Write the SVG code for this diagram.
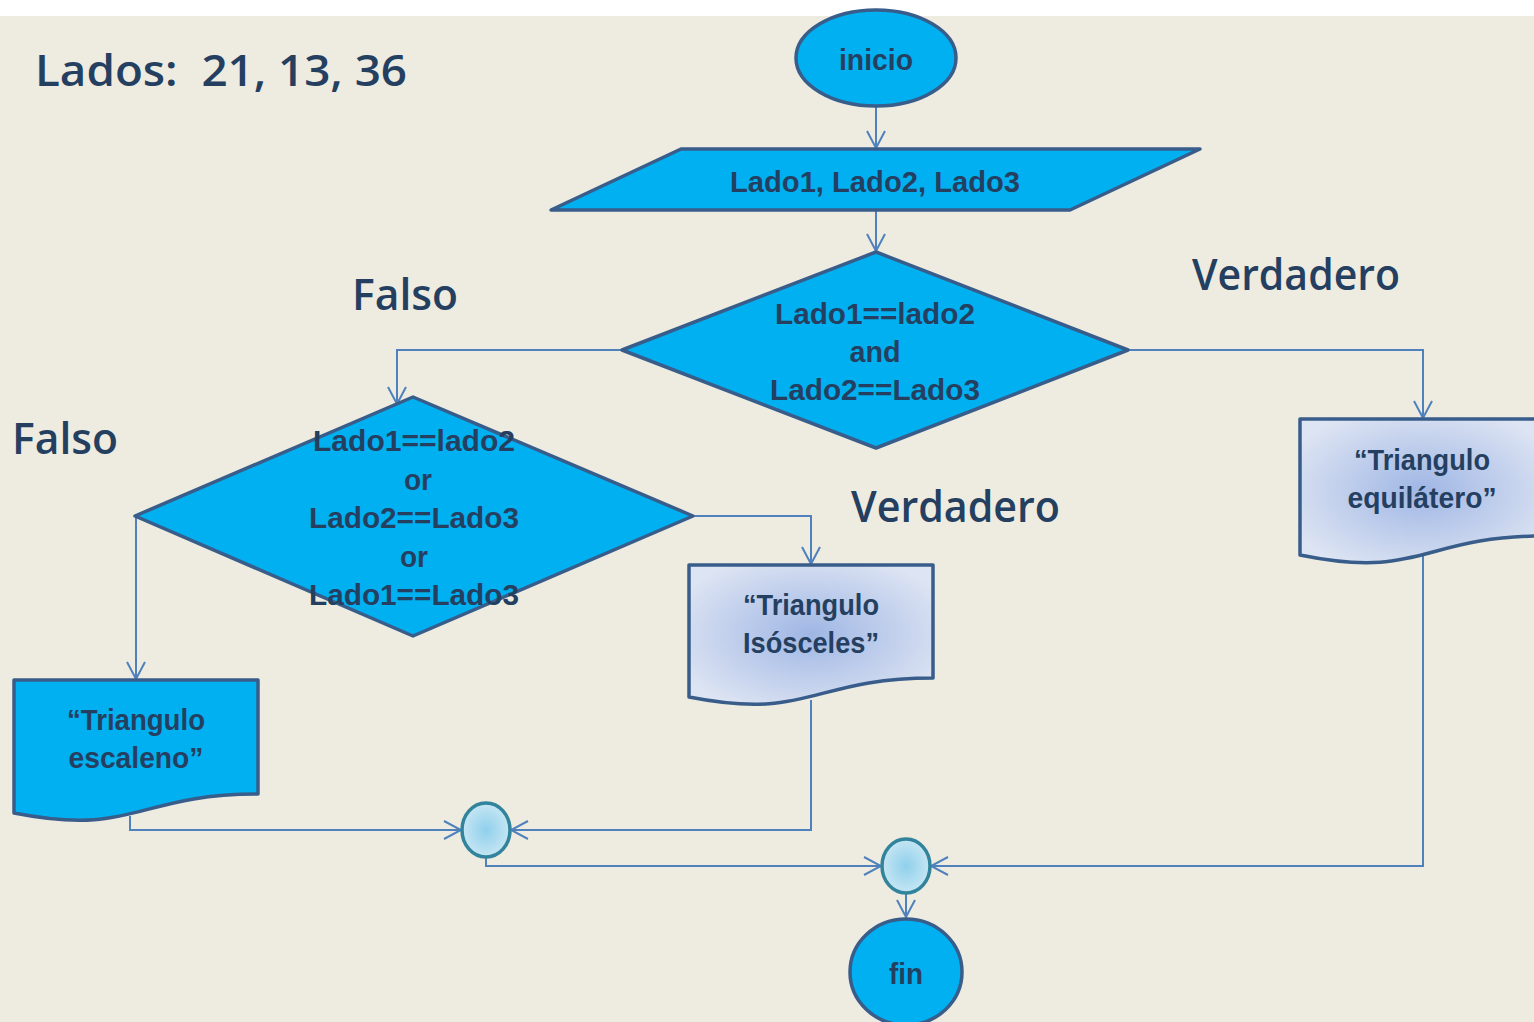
<svg xmlns="http://www.w3.org/2000/svg" width="1534" height="1022" viewBox="0 0 1534 1022">
  <defs>
    <style>
      .shape { fill: #00B0F0; stroke: #385D8A; stroke-width: 3.5; stroke-linejoin: round; }
      .doc { fill: url(#docFill); stroke: #385D8A; stroke-width: 3.5; stroke-linejoin: round; }
      .join { fill: url(#joinFill); stroke: #31849B; stroke-width: 3.5; }
      .wire { fill: none; stroke: #4F81BD; stroke-width: 2; }
      .t { font-family: "Liberation Sans", Arial, sans-serif; fill: #243F60; text-anchor: middle; }
      .b { font-weight: bold; font-size: 29px; }
      .m { font-size: 29px; font-weight: bold; }
      .lbl { font-family: "Open Sans", "Liberation Sans", Arial, sans-serif; font-weight: 600; fill: #243F60; font-size: 44px; }
    </style>
    <radialGradient id="docFill" cx="50%" cy="50%" r="60%">
      <stop offset="0" stop-color="#9FB6E4"/>
      <stop offset="1" stop-color="#DDE4F3"/>
    </radialGradient>
    <radialGradient id="joinFill" cx="50%" cy="50%" r="55%">
      <stop offset="0" stop-color="#8FD0EC"/>
      <stop offset="1" stop-color="#CBE8F4"/>
    </radialGradient>
    <marker id="arrow" viewBox="0 0 20 22" refX="18" refY="11" markerWidth="20" markerHeight="22" markerUnits="userSpaceOnUse" orient="auto">
      <path d="M1,2 L18,11 L1,20" fill="none" stroke="#4F81BD" stroke-width="2"/>
    </marker>
  </defs>

  <!-- page -->
  <rect x="0" y="0" width="1534" height="1022" fill="#FFFFFF"/>
  <rect x="0" y="16" width="1534" height="1006" fill="#EEEBE0"/>

  <!-- free labels -->
  <text class="lbl" x="35" y="86" xml:space="preserve" textLength="372" lengthAdjust="spacingAndGlyphs" font-size="46">Lados:  21, 13, 36</text>
  <text class="lbl" x="352" y="310" textLength="106" lengthAdjust="spacingAndGlyphs">Falso</text>
  <text class="lbl" x="1192" y="290" textLength="208" lengthAdjust="spacingAndGlyphs">Verdadero</text>
  <text class="lbl" x="12" y="454" textLength="106" lengthAdjust="spacingAndGlyphs">Falso</text>
  <text class="lbl" x="851" y="522" textLength="209" lengthAdjust="spacingAndGlyphs">Verdadero</text>

  <!-- connectors -->
  <g id="connectors">
    <path class="wire" d="M876,106 V148" marker-end="url(#arrow)"/>
    <path class="wire" d="M876,210 V251" marker-end="url(#arrow)"/>
    <path class="wire" d="M622,350 H397 V404" marker-end="url(#arrow)"/>
    <path class="wire" d="M1128,350 H1423 V418" marker-end="url(#arrow)"/>
    <path class="wire" d="M693,516 H811 V564" marker-end="url(#arrow)"/>
    <path class="wire" d="M136,516 V679" marker-end="url(#arrow)"/>
    <path class="wire" d="M130,816 V830 H461" marker-end="url(#arrow)"/>
    <path class="wire" d="M811,700 V830 H511" marker-end="url(#arrow)"/>
    <path class="wire" d="M486,857 V866 H881" marker-end="url(#arrow)"/>
    <path class="wire" d="M1423,556 V866 H931" marker-end="url(#arrow)"/>
    <path class="wire" d="M906,893 V917" marker-end="url(#arrow)"/>
  </g>

  <!-- start -->
  <g id="inicio">
    <ellipse class="shape" cx="876" cy="58" rx="80" ry="48"/>
    <text class="t b" x="876" y="70" textLength="74" lengthAdjust="spacingAndGlyphs">inicio</text>
  </g>

  <!-- input -->
  <g id="entrada">
    <polygon class="shape" points="551,210 681,149 1200,149 1070,210"/>
    <text class="t b" x="875" y="192" textLength="290" lengthAdjust="spacingAndGlyphs">Lado1, Lado2, Lado3</text>
  </g>

  <!-- decision: all sides equal -->
  <g id="decision-equilatero">
    <polygon class="shape" points="876,252 1128,350 876,448 622,350"/>
    <text class="t b" x="875" y="324" textLength="200" lengthAdjust="spacingAndGlyphs">Lado1==lado2</text>
    <text class="t b" x="875" y="362" textLength="51" lengthAdjust="spacingAndGlyphs">and</text>
    <text class="t b" x="875" y="400" textLength="210" lengthAdjust="spacingAndGlyphs">Lado2==Lado3</text>
  </g>

  <!-- decision: two sides equal -->
  <g id="decision-isosceles">
    <polygon class="shape" points="413,397 693,516 413,636 135,516"/>
    <text class="t b" x="414" y="451" textLength="202" lengthAdjust="spacingAndGlyphs">Lado1==lado2</text>
    <text class="t b" x="418" y="490" textLength="28" lengthAdjust="spacingAndGlyphs">or</text>
    <text class="t b" x="414" y="528" textLength="210" lengthAdjust="spacingAndGlyphs">Lado2==Lado3</text>
    <text class="t b" x="414" y="567" textLength="28" lengthAdjust="spacingAndGlyphs">or</text>
    <text class="t b" x="414" y="605" textLength="210" lengthAdjust="spacingAndGlyphs">Lado1==Lado3</text>
  </g>

  <!-- output: equilateral -->
  <g id="out-equilatero">
    <path class="doc" d="M1300,419 H1544 V536 C1422,536 1422,580 1300,555 Z"/>
    <text class="t m" x="1422" y="470" textLength="136" lengthAdjust="spacingAndGlyphs">“Triangulo</text>
    <text class="t m" x="1422" y="508" textLength="149" lengthAdjust="spacingAndGlyphs">equilátero”</text>
  </g>

  <!-- output: isosceles -->
  <g id="out-isosceles">
    <path class="doc" d="M689,565 H933 V678 C811,678 811,721 689,697 Z"/>
    <text class="t m" x="811" y="615" textLength="136" lengthAdjust="spacingAndGlyphs">“Triangulo</text>
    <text class="t m" x="811" y="653" textLength="136" lengthAdjust="spacingAndGlyphs">Isósceles”</text>
  </g>

  <!-- output: scalene -->
  <g id="out-escaleno">
    <path class="shape" d="M14,680 H258 V794 C136,794 136,837 14,813 Z"/>
    <text class="t b" x="136" y="730" textLength="138" lengthAdjust="spacingAndGlyphs">“Triangulo</text>
    <text class="t b" x="136" y="768" textLength="135" lengthAdjust="spacingAndGlyphs">escaleno”</text>
  </g>

  <!-- joins -->
  <g id="union-1">
    <ellipse class="join" cx="486" cy="830" rx="24" ry="27"/>
  </g>
  <g id="union-2">
    <ellipse class="join" cx="906" cy="866" rx="24" ry="27"/>
  </g>

  <!-- end -->
  <g id="fin">
    <ellipse class="shape" cx="906" cy="972" rx="56" ry="53"/>
    <text class="t b" x="906" y="984" textLength="34" lengthAdjust="spacingAndGlyphs">fin</text>
  </g>
</svg>
